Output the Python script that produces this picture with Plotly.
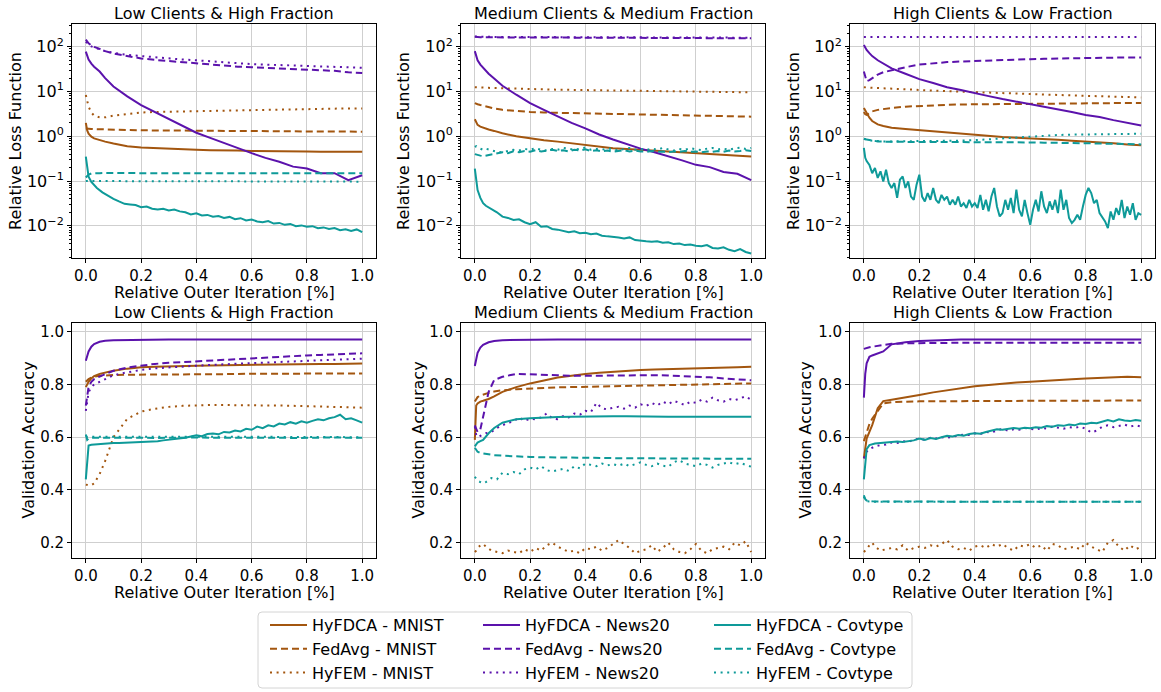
import plotly.graph_objects as go

W, H = 1161, 692

# ---------------- x grids (relative outer iteration) ----------------
XS = [0.0, 0.005, 0.01, 0.02, 0.03, 0.05, 0.07, 0.10,
      0.15, 0.20, 0.25, 0.30, 0.35, 0.40, 0.45, 0.50, 0.55,
      0.60, 0.65, 0.70, 0.75, 0.80, 0.85, 0.90, 0.95, 1.00]
XN = [0.0, 0.005, 0.01, 0.02, 0.03,
      0.04, 0.06, 0.08, 0.10, 0.12, 0.14, 0.16,
      0.18, 0.20, 0.22, 0.24, 0.26, 0.28, 0.30,
      0.32, 0.34, 0.36, 0.38, 0.40, 0.42, 0.44,
      0.46, 0.48, 0.50, 0.52, 0.54, 0.56, 0.58,
      0.60, 0.62, 0.64, 0.66, 0.68, 0.70, 0.72,
      0.74, 0.76, 0.78, 0.80, 0.82, 0.84, 0.86,
      0.88, 0.90, 0.92, 0.94, 0.96, 0.98, 1.00]
XD = [0.0, 0.005,
      0.01, 0.02, 0.03, 0.04, 0.05, 0.06, 0.07, 0.08, 0.09, 0.10,
      0.11, 0.12, 0.13, 0.14, 0.15, 0.16, 0.17, 0.18, 0.19, 0.20,
      0.21, 0.22, 0.23, 0.24, 0.25, 0.26, 0.27, 0.28, 0.29, 0.30,
      0.31, 0.32, 0.33, 0.34, 0.35, 0.36, 0.37, 0.38, 0.39, 0.40,
      0.41, 0.42, 0.43, 0.44, 0.45, 0.46, 0.47, 0.48, 0.49, 0.50,
      0.51, 0.52, 0.53, 0.54, 0.55, 0.56, 0.57, 0.58, 0.59, 0.60,
      0.61, 0.62, 0.63, 0.64, 0.65, 0.66, 0.67, 0.68, 0.69, 0.70,
      0.71, 0.72, 0.73, 0.74, 0.75, 0.76, 0.77, 0.78, 0.79, 0.80,
      0.81, 0.82, 0.83, 0.84, 0.85, 0.86, 0.87, 0.88, 0.89, 0.90,
      0.91, 0.92, 0.93, 0.94, 0.95, 0.96, 0.97, 0.98, 0.99, 1.00]

PANEL_TITLES = ["Low Clients & High Fraction", "Medium Clients & Medium Fraction",
                "High Clients & Low Fraction"]
X_TITLE = "Relative Outer Iteration [%]"
Y_TITLES = ["Relative Loss Function", "Validation Accuracy"]
X_TICKS = [0.0, 0.2, 0.4, 0.6, 0.8, 1.0]
LOG_TICKS = [0.01, 0.1, 1, 10, 100]
LOG_TICKTEXT = ["10<sup>\u22122</sup>", "10<sup>\u22121</sup>", "10<sup>0</sup>",
                "10<sup>1</sup>", "10<sup>2</sup>"]
ACC_TICKS = [0.2, 0.4, 0.6, 0.8, 1.0]

# ---------------- Loss: Low Clients & High Fraction ----------------
loss_low_hyfdca_mnist = [2.0, 1.35, 1.15, 0.98, 0.9, 0.82, 0.76, 0.69,
                         0.6, 0.56, 0.54, 0.53, 0.52, 0.5, 0.49, 0.49, 0.48,
                         0.47, 0.47, 0.46, 0.46, 0.46, 0.45, 0.45, 0.45, 0.45]
loss_low_fedavg_mnist = [1.5, 1.48, 1.47, 1.46, 1.45, 1.43, 1.42, 1.41,
                         1.38, 1.36, 1.35, 1.34, 1.33, 1.33, 1.32, 1.32, 1.31,
                         1.31, 1.3, 1.3, 1.29, 1.29, 1.28, 1.28, 1.28, 1.27]
loss_low_hyfem_mnist = [8.4, 6.0, 4.6, 3.4, 2.9, 2.65, 2.65, 2.9,
                        3.2, 3.4, 3.5, 3.55, 3.6, 3.7, 3.75, 3.8, 3.9,
                        3.95, 4.0, 4.05, 4.05, 4.1, 4.1, 4.15, 4.2, 4.2]
loss_low_hyfdca_news = [78, 62, 52, 42, 36, 28, 20, 13,
                        7.8, 5.0, 3.5, 2.5, 1.75, 1.2, 0.92, 0.7, 0.54,
                        0.42, 0.33, 0.27, 0.21, 0.19, 0.15, 0.15, 0.105, 0.135]
loss_low_fedavg_news = [145, 130, 120, 108, 100, 90, 80, 71,
                        62, 55, 51, 48, 45, 42, 40, 38, 36,
                        35, 34, 33, 32, 31, 30, 29, 27, 26]
loss_low_hyfem_news = [130, 120, 112, 102, 96, 88, 80, 73,
                       66, 62, 57, 54, 52, 50, 47, 45, 43,
                       41, 40, 39, 38, 37, 36, 35, 34.5, 34]
loss_low_hyfdca_cov = [0.35, 0.2, 0.125, 0.095, 0.08,
                       0.07, 0.056, 0.047, 0.04, 0.035, 0.031, 0.03,
                       0.029, 0.026, 0.027, 0.024, 0.023, 0.024, 0.022,
                       0.023, 0.021, 0.02, 0.018, 0.019, 0.017, 0.0175,
                       0.016, 0.0165, 0.015, 0.0158, 0.014, 0.0148, 0.0132,
                       0.0138, 0.0125, 0.012, 0.0128, 0.0112, 0.0116, 0.0105,
                       0.011, 0.0098, 0.0102, 0.0095, 0.0098, 0.0088, 0.0092,
                       0.0085, 0.0089, 0.008, 0.0084, 0.0077, 0.0083, 0.0072]
loss_low_fedavg_cov = [0.12, 0.13, 0.14, 0.148, 0.15, 0.15, 0.151, 0.15,
                       0.15, 0.149, 0.15, 0.15, 0.149, 0.15, 0.15, 0.15, 0.149,
                       0.15, 0.15, 0.15, 0.149, 0.15, 0.15, 0.15, 0.15, 0.15]
loss_low_hyfem_cov = [0.1, 0.1, 0.099, 0.099, 0.098, 0.098, 0.098, 0.098,
                      0.098, 0.098, 0.097, 0.098, 0.098, 0.097, 0.098, 0.098, 0.097,
                      0.098, 0.097, 0.097, 0.098, 0.097, 0.097, 0.097, 0.097, 0.097]

# ---------------- Loss: Medium Clients & Medium Fraction ----------------
loss_med_hyfdca_mnist = [2.4, 2.0, 1.8, 1.65, 1.55, 1.42, 1.32, 1.17,
                         1.0, 0.9, 0.82, 0.76, 0.7, 0.64, 0.59, 0.54, 0.52,
                         0.5, 0.47, 0.45, 0.43, 0.42, 0.4, 0.39, 0.37, 0.355]
loss_med_fedavg_mnist = [5.5, 5.3, 5.2, 5.0, 4.8, 4.5, 4.2, 3.9,
                         3.65, 3.5, 3.4, 3.35, 3.3, 3.2, 3.15, 3.1, 3.05,
                         3.0, 2.95, 2.9, 2.87, 2.85, 2.82, 2.8, 2.78, 2.75]
loss_med_hyfem_mnist = [12.5, 12.5, 12.4, 12.3, 12.2, 12.1, 12.0, 11.8,
                        11.6, 11.4, 11.2, 11.0, 10.9, 10.8, 10.7, 10.6, 10.5,
                        10.4, 10.3, 10.2, 10.1, 10.0, 9.9, 9.8, 9.7, 9.6]
loss_med_hyfdca_news = [80, 62, 50, 40, 34, 25, 19.5, 13.5,
                        8.5, 5.5, 3.9, 2.8, 2.0, 1.5, 1.1, 0.85, 0.67,
                        0.53, 0.44, 0.36, 0.29, 0.23, 0.205, 0.16, 0.145, 0.105]
loss_med_fedavg_news = [168, 166, 165, 164, 163, 163, 162, 162,
                        161, 161, 160, 160, 160, 159, 159, 159, 158,
                        158, 158, 157, 157, 157, 156, 156, 155, 155]
loss_med_hyfem_news = [170, 169, 168, 168, 167, 167, 166, 166,
                       166, 165, 165, 165, 164, 164, 164, 163, 163,
                       163, 162, 162, 162, 161, 161, 161, 160, 160]
loss_med_hyfdca_cov = [0.19, 0.09, 0.063, 0.042, 0.032,
                       0.028, 0.024, 0.02, 0.016, 0.015, 0.0135, 0.014,
                       0.012, 0.0108, 0.012, 0.0095, 0.0098, 0.0085, 0.0082,
                       0.0078, 0.0072, 0.0075, 0.0068, 0.007, 0.0065, 0.0067,
                       0.006, 0.0058, 0.0057, 0.0055, 0.0052, 0.0055, 0.0048,
                       0.0046, 0.0045, 0.0044, 0.0045, 0.0042, 0.0043, 0.0039,
                       0.004, 0.0037, 0.0038, 0.0036, 0.0035, 0.0037, 0.0032,
                       0.0031, 0.0033, 0.0029, 0.0027, 0.003, 0.0026, 0.0024]
loss_med_fedavg_cov = [0.4, 0.39, 0.38, 0.37, 0.36,
                       0.37, 0.39, 0.42, 0.44, 0.42, 0.46, 0.44,
                       0.47, 0.45, 0.49, 0.46, 0.48, 0.5, 0.47,
                       0.49, 0.46, 0.5, 0.48, 0.51, 0.47, 0.49,
                       0.46, 0.48, 0.45, 0.47, 0.49, 0.46, 0.48,
                       0.46, 0.45, 0.47, 0.45, 0.46, 0.44, 0.46,
                       0.45, 0.47, 0.45, 0.46, 0.44, 0.46, 0.45,
                       0.47, 0.45, 0.48, 0.46, 0.47, 0.49, 0.47]
loss_med_hyfem_cov = [0.58, 0.6, 0.56, 0.52, 0.5,
                      0.53, 0.48, 0.45, 0.44, 0.47, 0.5, 0.48,
                      0.52, 0.5, 0.54, 0.5, 0.48, 0.52, 0.5,
                      0.55, 0.52, 0.5, 0.53, 0.56, 0.5, 0.52,
                      0.5, 0.54, 0.51, 0.48, 0.52, 0.55, 0.5,
                      0.52, 0.49, 0.53, 0.5, 0.55, 0.51, 0.48,
                      0.52, 0.5, 0.54, 0.51, 0.49, 0.53, 0.55,
                      0.51, 0.53, 0.5, 0.54, 0.56, 0.52, 0.55]

# ---------------- Loss: High Clients & Low Fraction ----------------
loss_high_hyfdca_mnist = [4.3, 3.8, 3.3, 2.6, 2.2, 1.85, 1.7, 1.55,
                          1.45, 1.36, 1.28, 1.2, 1.12, 1.05, 1.0, 0.96, 0.93,
                          0.91, 0.87, 0.84, 0.8, 0.77, 0.73, 0.7, 0.66, 0.63]
loss_high_fedavg_mnist = [3.5, 3.1, 3.0, 3.3, 3.6, 3.9, 4.1, 4.3,
                          4.6, 4.8, 4.95, 5.05, 5.15, 5.2, 5.25, 5.3, 5.35,
                          5.4, 5.4, 5.45, 5.45, 5.5, 5.5, 5.5, 5.55, 5.55]
loss_high_hyfem_mnist = [12.5, 12.4, 12.3, 12.2, 12.1, 12.0, 11.8, 11.6,
                         11.2, 10.8, 10.5, 10.2, 10.0, 9.8, 9.5, 9.2, 9.0,
                         8.8, 8.6, 8.4, 8.2, 8.0, 7.8, 7.6, 7.5, 7.4]
loss_high_hyfdca_news = [110, 95, 85, 72, 62, 50, 42, 33,
                         25, 19, 15.5, 12.5, 10.8, 9.4, 7.9, 6.8, 6.0,
                         5.2, 4.6, 4.0, 3.5, 3.0, 2.7, 2.3, 2.0, 1.75]
loss_high_fedavg_news = [28, 20, 17, 18, 20, 24, 27, 30,
                         35, 40, 43, 45.5, 47, 48.5, 50, 51, 52,
                         53, 54, 55, 56, 56.5, 57, 57.5, 58, 58]
loss_high_hyfem_news = [166, 166, 166, 165, 165, 165, 165, 165,
                        165, 165, 165, 165, 165, 165, 165, 165, 165,
                        165, 165, 165, 165, 165, 165, 165, 165, 165]
loss_high_hyfdca_cov = [0.55, 0.33,
                        0.28, 0.23, 0.15, 0.195, 0.117, 0.165, 0.098, 0.179, 0.09, 0.07,
                        0.09, 0.042, 0.107, 0.127, 0.07, 0.098, 0.045, 0.038, 0.083, 0.139,
                        0.045, 0.035, 0.054, 0.038, 0.07, 0.038, 0.032, 0.049, 0.038, 0.045,
                        0.0295, 0.038, 0.0295, 0.045, 0.027, 0.032, 0.025, 0.038, 0.027, 0.032,
                        0.025, 0.049, 0.0228, 0.038, 0.021, 0.045, 0.07, 0.027, 0.0162, 0.0192,
                        0.038, 0.0228, 0.042, 0.0192, 0.064, 0.0228, 0.0162, 0.038, 0.0192, 0.0105,
                        0.0228, 0.038, 0.0209, 0.059, 0.027, 0.0192, 0.035, 0.0228, 0.038, 0.0192,
                        0.064, 0.0228, 0.038, 0.0149, 0.0115, 0.0136, 0.0176, 0.0136, 0.027, 0.049,
                        0.07, 0.054, 0.032, 0.038, 0.0192, 0.0149, 0.0125, 0.0089, 0.0209, 0.0136,
                        0.0249, 0.0176, 0.038, 0.0149, 0.027, 0.0176, 0.032, 0.0136, 0.0192, 0.0176]
loss_high_fedavg_cov = [0.87, 0.86, 0.85, 0.82, 0.8, 0.77, 0.76, 0.75,
                        0.75, 0.75, 0.75, 0.75, 0.75, 0.74, 0.74, 0.74, 0.73,
                        0.73, 0.72, 0.72, 0.71, 0.7, 0.69, 0.68, 0.67, 0.66]
loss_high_hyfem_cov = [0.88, 0.86, 0.84, 0.82, 0.8, 0.78, 0.77, 0.77,
                       0.77, 0.78, 0.78, 0.79, 0.8, 0.82, 0.86, 0.9, 0.95,
                       1.0, 1.04, 1.07, 1.09, 1.1, 1.12, 1.14, 1.15, 1.14]

# ---------------- Accuracy: Low Clients & High Fraction ----------------
acc_low_hyfdca_mnist = [0.79, 0.80, 0.81, 0.823, 0.832, 0.84, 0.845, 0.852,
                        0.86, 0.865, 0.867, 0.869, 0.87, 0.871, 0.872, 0.873, 0.874,
                        0.875, 0.876, 0.877, 0.877, 0.878, 0.878, 0.878, 0.879, 0.879]
acc_low_fedavg_mnist = [0.81, 0.815, 0.82, 0.826, 0.83, 0.833, 0.835, 0.836,
                        0.837, 0.837, 0.838, 0.838, 0.838, 0.839, 0.839, 0.839, 0.84,
                        0.84, 0.84, 0.84, 0.841, 0.841, 0.841, 0.842, 0.842, 0.842]
acc_low_hyfem_mnist = [0.42, 0.42, 0.418, 0.418, 0.425, 0.46, 0.51, 0.6,
                       0.67, 0.697, 0.708, 0.715, 0.719, 0.721, 0.722, 0.722, 0.722,
                       0.721, 0.72, 0.72, 0.719, 0.718, 0.717, 0.716, 0.714, 0.712]
acc_low_hyfdca_news = [0.89, 0.91, 0.925, 0.943, 0.953, 0.962, 0.966, 0.968,
                       0.969, 0.969, 0.97, 0.97, 0.97, 0.97, 0.97, 0.97, 0.97,
                       0.97, 0.97, 0.97, 0.97, 0.97, 0.97, 0.97, 0.97, 0.97]
acc_low_fedavg_news = [0.72, 0.76, 0.79, 0.81, 0.82, 0.83, 0.84, 0.852,
                       0.864, 0.872, 0.878, 0.882, 0.885, 0.888, 0.891, 0.894, 0.897,
                       0.9, 0.903, 0.906, 0.908, 0.91, 0.912, 0.914, 0.916, 0.918]
acc_low_hyfem_news = [0.70, 0.74, 0.77, 0.79, 0.8, 0.81, 0.82, 0.835,
                      0.846, 0.855, 0.861, 0.865, 0.868, 0.871, 0.874, 0.877, 0.879,
                      0.881, 0.883, 0.885, 0.887, 0.889, 0.891, 0.893, 0.895, 0.898]
acc_low_hyfdca_cov = [0.44, 0.52, 0.568, 0.571, 0.572,
                      0.573, 0.575, 0.576, 0.578, 0.578, 0.579, 0.58,
                      0.581, 0.582, 0.582, 0.584, 0.585, 0.588, 0.59,
                      0.592, 0.595, 0.598, 0.603, 0.607, 0.604, 0.612,
                      0.614, 0.611, 0.62, 0.618, 0.625, 0.622, 0.632,
                      0.628, 0.64, 0.634, 0.645, 0.641, 0.652, 0.648,
                      0.657, 0.651, 0.66, 0.655, 0.662, 0.668, 0.664,
                      0.672, 0.676, 0.685, 0.668, 0.672, 0.664, 0.655]
acc_low_fedavg_cov = [0.61, 0.59, 0.595, 0.598, 0.598, 0.597, 0.598, 0.598,
                      0.599, 0.598, 0.597, 0.598, 0.598, 0.599, 0.598, 0.597, 0.598,
                      0.598, 0.599, 0.598, 0.597, 0.598, 0.598, 0.599, 0.598, 0.598]
acc_low_hyfem_cov = [0.6, 0.602, 0.603, 0.602, 0.602, 0.603, 0.602, 0.602,
                     0.602, 0.603, 0.602, 0.602, 0.601, 0.602, 0.602, 0.602, 0.601,
                     0.602, 0.602, 0.601, 0.602, 0.601, 0.601, 0.601, 0.6, 0.6]

# ---------------- Accuracy: Medium Clients & Medium Fraction ----------------
acc_med_hyfdca_mnist = [0.59, 0.72, 0.728, 0.735, 0.738, 0.745, 0.755, 0.772,
                        0.79, 0.804, 0.815, 0.826, 0.833, 0.84, 0.844, 0.848, 0.851,
                        0.855, 0.857, 0.858, 0.86, 0.861, 0.862, 0.864, 0.865, 0.867]
acc_med_fedavg_mnist = [0.735, 0.745, 0.752, 0.758, 0.762, 0.768, 0.773, 0.778,
                        0.782, 0.785, 0.787, 0.789, 0.79, 0.791, 0.793, 0.794, 0.795,
                        0.796, 0.797, 0.798, 0.799, 0.8, 0.801, 0.802, 0.803, 0.804]
acc_med_hyfem_mnist = [0.165, 0.17, 0.18, 0.19, 0.195,
                       0.185, 0.17, 0.165, 0.16, 0.17, 0.165, 0.16,
                       0.175, 0.165, 0.18, 0.17, 0.19, 0.2, 0.185,
                       0.175, 0.165, 0.17, 0.16, 0.18, 0.175, 0.185,
                       0.17, 0.18, 0.195, 0.21, 0.195, 0.18, 0.16,
                       0.17, 0.175, 0.19, 0.165, 0.18, 0.2, 0.175,
                       0.165, 0.16, 0.175, 0.195, 0.17, 0.16, 0.175,
                       0.18, 0.185, 0.175, 0.2, 0.19, 0.205, 0.165]
acc_med_hyfdca_news = [0.87, 0.9, 0.92, 0.94, 0.95, 0.96, 0.965, 0.968,
                       0.969, 0.97, 0.97, 0.97, 0.97, 0.97, 0.97, 0.97, 0.97,
                       0.97, 0.97, 0.97, 0.97, 0.97, 0.97, 0.97, 0.97, 0.97]
acc_med_fedavg_news = [0.645, 0.63, 0.62, 0.63, 0.68, 0.772, 0.817, 0.829,
                       0.84, 0.839, 0.837, 0.835, 0.833, 0.832, 0.833, 0.834, 0.835,
                       0.836, 0.835, 0.834, 0.832, 0.83, 0.827, 0.823, 0.82, 0.816]
acc_med_hyfem_news = [0.64, 0.61, 0.6, 0.605, 0.61,
                      0.615, 0.62, 0.635, 0.645, 0.655, 0.66, 0.675,
                      0.662, 0.67, 0.668, 0.675, 0.69, 0.672, 0.668,
                      0.68, 0.675, 0.69, 0.685, 0.7, 0.695, 0.73,
                      0.71, 0.705, 0.712, 0.715, 0.708, 0.72, 0.712,
                      0.725, 0.718, 0.73, 0.72, 0.735, 0.725, 0.738,
                      0.73, 0.722, 0.735, 0.73, 0.742, 0.735, 0.75,
                      0.74, 0.735, 0.745, 0.74, 0.748, 0.755, 0.742]
acc_med_hyfdca_cov = [0.565, 0.575, 0.58, 0.585, 0.59, 0.615, 0.635, 0.655,
                      0.668, 0.672, 0.675, 0.677, 0.678, 0.679, 0.679, 0.679, 0.679,
                      0.678, 0.677, 0.678, 0.678, 0.679, 0.678, 0.678, 0.678, 0.678]
acc_med_fedavg_cov = [0.56, 0.55, 0.545, 0.54, 0.538, 0.535, 0.532, 0.53,
                      0.527, 0.525, 0.524, 0.523, 0.522, 0.522, 0.521, 0.521, 0.52,
                      0.52, 0.52, 0.52, 0.519, 0.519, 0.519, 0.518, 0.518, 0.518]
acc_med_hyfem_cov = [0.45, 0.44, 0.435, 0.43, 0.425,
                     0.43, 0.445, 0.44, 0.465, 0.46, 0.468, 0.46,
                     0.478, 0.485, 0.478, 0.49, 0.475, 0.47, 0.475,
                     0.48, 0.472, 0.49, 0.482, 0.5, 0.495, 0.49,
                     0.5, 0.493, 0.498, 0.492, 0.5, 0.49, 0.498,
                     0.505, 0.495, 0.49, 0.5, 0.492, 0.488, 0.505,
                     0.513, 0.5, 0.495, 0.49, 0.5, 0.495, 0.485,
                     0.495, 0.5, 0.505, 0.497, 0.503, 0.495, 0.488]

# ---------------- Accuracy: High Clients & Low Fraction ----------------
acc_high_hyfdca_mnist = [0.52, 0.56, 0.595, 0.62, 0.646, 0.71, 0.737, 0.742,
                         0.75, 0.76, 0.77, 0.778, 0.786, 0.793, 0.798, 0.803, 0.807,
                         0.81, 0.814, 0.817, 0.82, 0.823, 0.825, 0.827, 0.829, 0.827]
acc_high_fedavg_mnist = [0.585, 0.6, 0.62, 0.65, 0.67, 0.7, 0.728, 0.733,
                         0.735, 0.736, 0.736, 0.737, 0.737, 0.737, 0.737, 0.738, 0.738,
                         0.738, 0.738, 0.738, 0.738, 0.738, 0.739, 0.739, 0.739, 0.739]
acc_high_hyfem_mnist = [0.165, 0.17, 0.175, 0.19, 0.2,
                        0.185, 0.17, 0.175, 0.18, 0.175, 0.19, 0.17,
                        0.18, 0.185, 0.18, 0.19, 0.185, 0.195, 0.21,
                        0.185, 0.175, 0.18, 0.17, 0.185, 0.19, 0.18,
                        0.195, 0.185, 0.195, 0.18, 0.17, 0.19, 0.185,
                        0.195, 0.18, 0.19, 0.17, 0.195, 0.19, 0.175,
                        0.18, 0.185, 0.175, 0.2, 0.185, 0.175, 0.165,
                        0.2, 0.21, 0.185, 0.17, 0.19, 0.175, 0.185]
acc_high_hyfdca_news = [0.75, 0.84, 0.88, 0.905, 0.91, 0.918, 0.925, 0.952,
                        0.96, 0.965, 0.968, 0.969, 0.97, 0.97, 0.97, 0.97, 0.97,
                        0.97, 0.97, 0.97, 0.97, 0.97, 0.97, 0.97, 0.97, 0.97]
acc_high_fedavg_news = [0.935, 0.937, 0.939, 0.941, 0.943, 0.946, 0.95, 0.954,
                        0.956, 0.957, 0.957, 0.958, 0.958, 0.958, 0.958, 0.958, 0.958,
                        0.958, 0.958, 0.958, 0.958, 0.958, 0.958, 0.958, 0.958, 0.958]
acc_high_hyfem_news = [0.52, 0.53, 0.545, 0.555, 0.56,
                       0.565, 0.57, 0.572, 0.58, 0.578, 0.585, 0.583,
                       0.59, 0.595, 0.59, 0.598, 0.595, 0.6, 0.598,
                       0.602, 0.605, 0.61, 0.608, 0.615, 0.612, 0.62,
                       0.618, 0.625, 0.632, 0.625, 0.63, 0.628, 0.635,
                       0.632, 0.628, 0.635, 0.633, 0.64, 0.636, 0.632,
                       0.638, 0.635, 0.64, 0.632, 0.618, 0.625, 0.64,
                       0.645, 0.638, 0.642, 0.648, 0.64, 0.645, 0.64]
acc_high_hyfdca_cov = [0.44, 0.5, 0.555, 0.57, 0.573,
                       0.576, 0.578, 0.58, 0.583, 0.584, 0.582, 0.585,
                       0.588, 0.595, 0.59, 0.597, 0.593, 0.6, 0.605,
                       0.603, 0.608, 0.606, 0.612, 0.615, 0.613, 0.62,
                       0.625, 0.63, 0.628, 0.632, 0.635, 0.632, 0.636,
                       0.634, 0.638, 0.636, 0.642, 0.64, 0.645, 0.643,
                       0.648, 0.645, 0.652, 0.65, 0.655, 0.653, 0.658,
                       0.665, 0.66, 0.668, 0.663, 0.661, 0.665, 0.662]
acc_high_fedavg_cov = [0.38, 0.365, 0.36, 0.358, 0.357, 0.356, 0.356, 0.355,
                       0.355, 0.355, 0.355, 0.355, 0.355, 0.355, 0.355, 0.355, 0.355,
                       0.355, 0.355, 0.355, 0.355, 0.355, 0.355, 0.355, 0.355, 0.355]
acc_high_hyfem_cov = [0.375, 0.36, 0.357, 0.356, 0.356, 0.355, 0.355, 0.355,
                      0.355, 0.355, 0.355, 0.355, 0.355, 0.355, 0.355, 0.355, 0.355,
                      0.355, 0.355, 0.355, 0.355, 0.355, 0.355, 0.355, 0.355, 0.355]

# ---------------- styling ----------------
FONT = "DejaVu Sans"
COLORS = {"MNIST": "#A3560F", "News20": "#5B12AC", "Covtype": "#0E9A99"}
DASHES = {"HyFDCA": "solid", "FedAvg": "7px,4px", "HyFEM": "2px,4.6px"}
LEGENDS = {"MNIST": "legend", "News20": "legend2", "Covtype": "legend3"}
METHODS = ["HyFDCA", "FedAvg", "HyFEM"]
DATASETS = ["MNIST", "News20", "Covtype"]

PANELS = [
    {"MNIST": [(XS, loss_low_hyfdca_mnist), (XS, loss_low_fedavg_mnist), (XS, loss_low_hyfem_mnist)],
     "News20": [(XS, loss_low_hyfdca_news), (XS, loss_low_fedavg_news), (XS, loss_low_hyfem_news)],
     "Covtype": [(XN, loss_low_hyfdca_cov), (XS, loss_low_fedavg_cov), (XS, loss_low_hyfem_cov)]},
    {"MNIST": [(XS, loss_med_hyfdca_mnist), (XS, loss_med_fedavg_mnist), (XS, loss_med_hyfem_mnist)],
     "News20": [(XS, loss_med_hyfdca_news), (XS, loss_med_fedavg_news), (XS, loss_med_hyfem_news)],
     "Covtype": [(XN, loss_med_hyfdca_cov), (XN, loss_med_fedavg_cov), (XN, loss_med_hyfem_cov)]},
    {"MNIST": [(XS, loss_high_hyfdca_mnist), (XS, loss_high_fedavg_mnist), (XS, loss_high_hyfem_mnist)],
     "News20": [(XS, loss_high_hyfdca_news), (XS, loss_high_fedavg_news), (XS, loss_high_hyfem_news)],
     "Covtype": [(XD, loss_high_hyfdca_cov), (XS, loss_high_fedavg_cov), (XS, loss_high_hyfem_cov)]},
    {"MNIST": [(XS, acc_low_hyfdca_mnist), (XS, acc_low_fedavg_mnist), (XS, acc_low_hyfem_mnist)],
     "News20": [(XS, acc_low_hyfdca_news), (XS, acc_low_fedavg_news), (XS, acc_low_hyfem_news)],
     "Covtype": [(XN, acc_low_hyfdca_cov), (XS, acc_low_fedavg_cov), (XS, acc_low_hyfem_cov)]},
    {"MNIST": [(XS, acc_med_hyfdca_mnist), (XS, acc_med_fedavg_mnist), (XN, acc_med_hyfem_mnist)],
     "News20": [(XS, acc_med_hyfdca_news), (XS, acc_med_fedavg_news), (XN, acc_med_hyfem_news)],
     "Covtype": [(XS, acc_med_hyfdca_cov), (XS, acc_med_fedavg_cov), (XN, acc_med_hyfem_cov)]},
    {"MNIST": [(XS, acc_high_hyfdca_mnist), (XS, acc_high_fedavg_mnist), (XN, acc_high_hyfem_mnist)],
     "News20": [(XS, acc_high_hyfdca_news), (XS, acc_high_fedavg_news), (XN, acc_high_hyfem_news)],
     "Covtype": [(XN, acc_high_hyfdca_cov), (XS, acc_high_fedavg_cov), (XS, acc_high_hyfem_cov)]},
]

# axes boxes in pixels (left, right, top, bottom)
COLS_PX = [(72, 376), (461, 765), (850, 1155)]
ROWS_PX = [(24, 258), (323, 558)]


def px(x):
    return x / W


def py(y):
    return 1 - y / H


fig = go.Figure()

for k, panel in enumerate(PANELS):
    ax = k + 1
    xa = "x" if ax == 1 else f"x{ax}"
    ya = "y" if ax == 1 else f"y{ax}"
    for ds in DATASETS:
        for mi, m in enumerate(METHODS):
            xs, ys = panel[ds][mi]
            if len(xs) != len(ys):
                raise ValueError(f"length mismatch panel {ax} {m} {ds}: {len(xs)} vs {len(ys)}")
            fig.add_trace(go.Scatter(
                x=xs, y=ys, mode="lines", xaxis=xa, yaxis=ya,
                name=f"{m} - {ds}", legendgroup=f"{m}-{ds}",
                legend=LEGENDS[ds], showlegend=(k == 0),
                line=dict(color=COLORS[ds], width=2, dash=DASHES[m]),
            ))

minor_log = [m * 10.0 ** e for e in range(-3, 3) for m in range(2, 10)]

layout = dict(
    width=W, height=H,
    margin=dict(l=0, r=0, t=0, b=0),
    paper_bgcolor="white", plot_bgcolor="white",
    font=dict(family=FONT, size=16, color="black"),
    annotations=[], shapes=[],
)

axis_common = dict(
    showline=True, mirror=True, linecolor="black", linewidth=1,
    ticks="outside", ticklen=4, tickwidth=1, tickcolor="black",
    showgrid=True, gridcolor="#cfcfcf", gridwidth=1, zeroline=False,
    tickfont=dict(family=FONT, size=15, color="black"),
)

for k in range(6):
    ax = k + 1
    r, c = divmod(k, 3)
    (xl, xr), (yt, yb) = COLS_PX[c], ROWS_PX[r]
    xkey = "xaxis" if ax == 1 else f"xaxis{ax}"
    ykey = "yaxis" if ax == 1 else f"yaxis{ax}"
    yanchor_id = "y" if ax == 1 else f"y{ax}"
    xanchor_id = "x" if ax == 1 else f"x{ax}"
    layout[xkey] = dict(axis_common, domain=[px(xl), px(xr)], anchor=yanchor_id,
                        range=[-0.05, 1.05], tickvals=X_TICKS, tickformat=".1f")
    if r == 0:
        layout[ykey] = dict(axis_common, domain=[py(yb), py(yt)], anchor=xanchor_id,
                            type="log", range=[-2.72, 2.51],
                            tickvals=LOG_TICKS, ticktext=LOG_TICKTEXT,
                            tickfont=dict(family=FONT, size=16, color="black"),
                            minor=dict(tickvals=minor_log, ticks="outside", ticklen=2.5,
                                       tickwidth=0.8, tickcolor="black", showgrid=False))
    else:
        layout[ykey] = dict(axis_common, domain=[py(yb), py(yt)], anchor=xanchor_id,
                            range=[0.142, 1.033], tickvals=ACC_TICKS, tickformat=".1f")
    # panel title
    cx = (xl + xr) / 2
    layout["annotations"].append(dict(
        text=PANEL_TITLES[c], x=px(cx), y=py(yt - 11), xref="paper", yref="paper",
        xanchor="center", yanchor="middle", showarrow=False, font=dict(size=16)))
    # x title
    layout["annotations"].append(dict(
        text=X_TITLE, x=px(cx), y=py(yb + 34), xref="paper", yref="paper",
        xanchor="center", yanchor="middle", showarrow=False, font=dict(size=16)))

# y titles
Y_TITLE_X = [[15, 403, 793], [28, 418, 805]]
for r in range(2):
    yt, yb = ROWS_PX[r]
    for c in range(3):
        layout["annotations"].append(dict(
            text=Y_TITLES[r], x=px(Y_TITLE_X[r][c]), y=py((yt + yb) / 2),
            xref="paper", yref="paper", xanchor="center", yanchor="middle",
            textangle=-90, showarrow=False, font=dict(size=16)))

# legends: three columns
LEG_X = [265, 478, 709]
for i, key in enumerate(["legend", "legend2", "legend3"]):
    layout[key] = dict(
        x=px(LEG_X[i]), y=py(608), xanchor="left", yanchor="top",
        orientation="v", traceorder="grouped", tracegroupgap=0, itemwidth=37,
        bgcolor="rgba(0,0,0,0)", borderwidth=0,
        font=dict(family=FONT, size=16, color="black"),
    )

# legend frame (rounded rectangle)
x0, x1, y0, y1, rr = 258, 912, 612, 688, 4
path = (f"M {px(x0 + rr)},{py(y0)} L {px(x1 - rr)},{py(y0)} "
        f"Q {px(x1)},{py(y0)} {px(x1)},{py(y0 + rr)} L {px(x1)},{py(y1 - rr)} "
        f"Q {px(x1)},{py(y1)} {px(x1 - rr)},{py(y1)} L {px(x0 + rr)},{py(y1)} "
        f"Q {px(x0)},{py(y1)} {px(x0)},{py(y1 - rr)} L {px(x0)},{py(y0 + rr)} "
        f"Q {px(x0)},{py(y0)} {px(x0 + rr)},{py(y0)} Z")
layout["shapes"].append(dict(type="path", path=path, xref="paper", yref="paper",
                             line=dict(color="#d4d4d4", width=1)))

fig.update_layout(**layout)
fig.write_html("out.html", config={"displayModeBar": False},
               post_script="document.body.style.margin='0px';document.body.style.overflow='hidden';")
